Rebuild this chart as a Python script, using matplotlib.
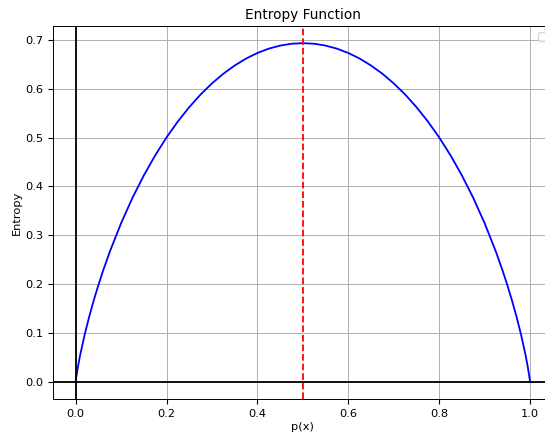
import matplotlib
matplotlib.use("Agg")
import matplotlib.pyplot as plt

# probability values and the entropy
p_left = [0.0, 0.001, 0.005, 0.01, 0.02, 0.03, 0.04, 0.05, 0.06, 0.075, 0.1,
          0.125, 0.15, 0.175, 0.2, 0.225, 0.25, 0.275, 0.3, 0.325, 0.35,
          0.375, 0.4, 0.425, 0.45, 0.475, 0.5]
h_left = [0.0, 0.0079, 0.0315, 0.0560, 0.0980, 0.1347, 0.1679, 0.1985, 0.2270,
          0.2664, 0.3251, 0.3768, 0.4227, 0.4637, 0.5004, 0.5332, 0.5623,
          0.5882, 0.6109, 0.6306, 0.6474, 0.6616, 0.6730, 0.6819, 0.6881,
          0.6919, 0.6931]
p_right = [0.525, 0.55, 0.575, 0.6, 0.625, 0.65, 0.675, 0.7, 0.725, 0.75,
           0.775, 0.8, 0.825, 0.85, 0.875, 0.9, 0.925, 0.94, 0.95, 0.96,
           0.97, 0.98, 0.99, 0.995, 0.999, 1.0]
h_right = [0.6919, 0.6881, 0.6819, 0.6730, 0.6616, 0.6474, 0.6306, 0.6109,
           0.5882, 0.5623, 0.5332, 0.5004, 0.4637, 0.4227, 0.3768, 0.3251,
           0.2664, 0.2270, 0.1985, 0.1679, 0.1347, 0.0980, 0.0560, 0.0315,
           0.0079, 0.0]

p = p_left + p_right
h = h_left + h_right

# the reference looks like a scaled down render, so shrink text a bit
plt.rcParams["font.size"] = 8.2
plt.rcParams["axes.titlesize"] = 9.8
plt.rcParams["lines.linewidth"] = 1.3
plt.rcParams["grid.linewidth"] = 0.7
plt.rcParams["axes.linewidth"] = 0.7

fig = plt.figure(figsize=(5.45, 4.34), dpi=100)
ax = fig.add_axes([0.0972, 0.0806, 0.917, 0.859])

ax.plot(p, h, color="blue")
ax.axhline(0, color="black")
ax.axvline(0, color="black")
ax.axvline(0.5, color="red", linestyle="--")

ax.set_title("Entropy Function", pad=5)
ax.set_xlabel("p(x)", labelpad=2.5)
ax.set_ylabel("Entropy", labelpad=2)
ax.grid(True)
ax.legend()

fig.savefig("out.png", dpi=100)
